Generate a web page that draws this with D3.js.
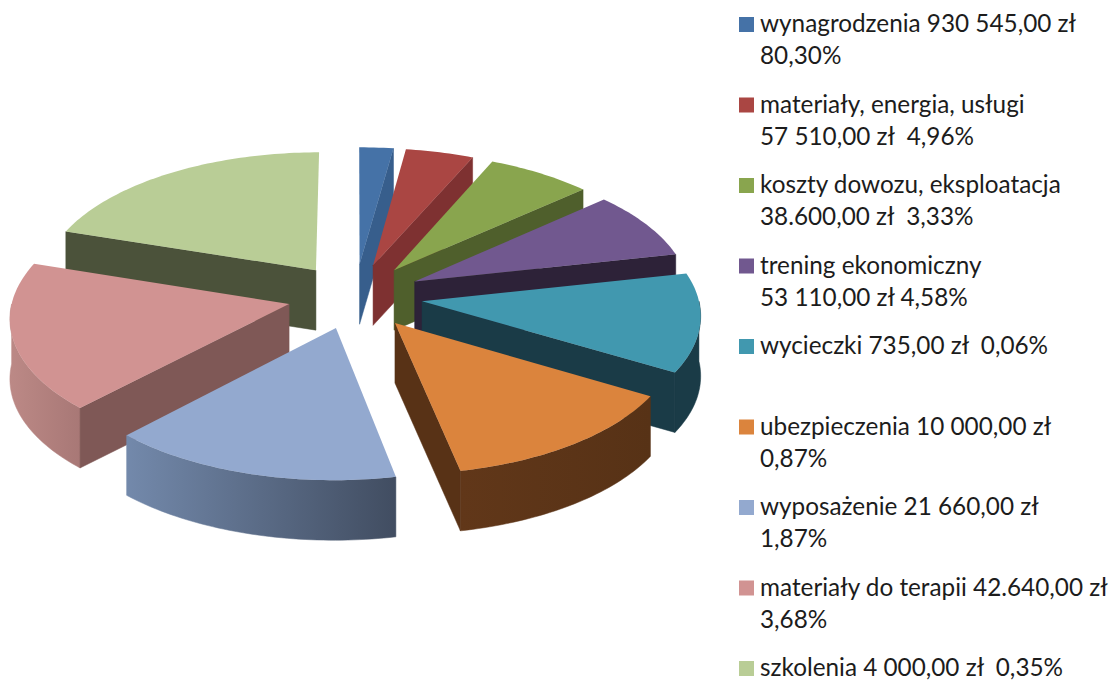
<!DOCTYPE html>
<html lang="pl">
<head>
<meta charset="utf-8">
<title>Struktura wydatków</title>
<script src="https://cdn.jsdelivr.net/npm/d3@7"></script>
<style>
    html, body { margin: 0; padding: 0; background: #fff; }
    svg { display: block; }
    .legend-text { font-family: Lato, "Open Sans", sans-serif; font-size: 24.3px; fill: #1c1c1c; white-space: pre; }
</style>
</head>
<body>
<div id="chart"></div>
<script>
// Slice sizes as drawn in the picture (percent of the full circle). They do not follow the legend figures.
const sliceShares = [2.2, 4.4, 6.8, 8.2, 11.9, 13.3, 15.3, 17.9, 20.0];

// Legend text, first and second line of each entry
const legendFirstLines = [
    "wynagrodzenia 930 545,00 zł",
    "materiały, energia, usługi",
    "koszty dowozu, eksploatacja",
    "trening ekonomiczny",
    "wycieczki 735,00 zł  0,06%",
    "ubezpieczenia 10 000,00 zł",
    "wyposażenie 21 660,00 zł",
    "materiały do terapii 42.640,00 zł",
    "szkolenia 4 000,00 zł  0,35%"
];
const legendSecondLines = [
    "80,30%",
    "57 510,00 zł  4,96%",
    "38.600,00 zł  3,33%",
    "53 110,00 zł 4,58%",
    "",
    "0,87%",
    "1,87%",
    "3,68%",
    ""
];

// Colours: top face, cut faces, outer wall (left and right end of its gradient)
const topColors = ["#4572A7", "#AA4643", "#89A54E", "#71588F", "#4198AF", "#DB843D", "#93A9CF", "#D19392", "#B9CD96"];
const cutColors = ["#375E8C", "#7E3131", "#4F5F2C", "#2D2238", "#1A3B47", "#583216", "#4A5568", "#7F5856", "#4B523A"];
const wallFrom = ["#375E8C", "#7E3131", "#4F5F2C", "#2D2238", "#1A3B47", "#613719", "#7389AB", "#BC8986", "#4B523A"];
const wallTo = ["#375E8C", "#7E3131", "#4F5F2C", "#2D2238", "#1A3B47", "#573216", "#414D61", "#A87876", "#4B523A"];

const width = 1113;
const height = 680;

// Pie geometry: flat ellipse with a light perspective, every slice pulled out by the same amount
const centerX = 355;
const centerY = 296;
const radiusX = 276;
const radiusY = 132.7;
const perspective = 0.089;
const explode = 0.245;
const depth = 60;

const xScale = d3.scaleLinear().domain([-1, 1]).range([centerX - radiusX, centerX + radiusX]);
const yScale = d3.scaleLinear().domain([-1, 1]).range([centerY + radiusY, centerY - radiusY]);

const svg = d3.select("#chart")
    .append("svg")
    .attr("width", width)
    .attr("height", height);

const defs = svg.append("defs");

// Angles run clockwise from the top of the pie
const pieData = d3.pie()
    .sort(null)
    .value(d => d)(sliceShares)
    .map((d, i) => ({
        index: i,
        start: d.startAngle,
        end: d.endAngle,
        mid: (d.startAngle + d.endAngle) / 2
    }));

// Project a point of a slice (angle, radius 0..1) to the screen
function project(slice, angle, radius, drop = 0) {
    const gx = radius * Math.sin(angle) + explode * Math.sin(slice.mid);
    const gz = radius * Math.cos(angle) + explode * Math.cos(slice.mid);
    const f = 1 / (1 + perspective * gz);
    return [xScale(gx * f), yScale(gz * f) + drop];
}

function arcPoints(slice, from, to, drop = 0) {
    const steps = Math.max(2, Math.ceil((to - from) / 0.02));
    return d3.range(steps + 1).map(k => project(slice, from + (to - from) * k / steps, 1, drop));
}

const outline = d3.line().curve(d3.curveLinear);

// Back slices first so the nearer ones paint over them
const drawOrder = pieData.slice().sort((a, b) => Math.cos(b.mid) - Math.cos(a.mid));

const slices = svg.append("g")
    .selectAll("g")
    .data(drawOrder)
    .join("g")
    .attr("class", "slice");

slices.each(function (d) {
    const g = d3.select(this);

    // Outer wall, front half of the rim only
    const from = Math.max(d.start, Math.PI / 2);
    const to = Math.min(d.end, Math.PI * 1.5);
    if (to > from) {
        const gradientId = `wall-${d.index}`;
        const gradient = defs.append("linearGradient").attr("id", gradientId);
        gradient.append("stop").attr("offset", "0%").attr("stop-color", wallFrom[d.index]);
        gradient.append("stop").attr("offset", "100%").attr("stop-color", wallTo[d.index]);

        const wall = arcPoints(d, from, to).concat(arcPoints(d, from, to, depth).reverse());
        g.append("path")
            .attr("d", outline(wall) + "Z")
            .attr("fill", `url(#${gradientId})`)
            .attr("stroke", `url(#${gradientId})`)
            .attr("stroke-width", 0.5);
    }

    // Cut faces that turn towards the viewer
    [d.start, d.end].forEach((angle, k) => {
        const facing = k === 0 ? Math.sin(angle) < -0.001 : Math.sin(angle) > 0.001;
        if (!facing) return;
        const face = [
            project(d, angle, 0),
            project(d, angle, 1),
            project(d, angle, 1, depth),
            project(d, angle, 0, depth)
        ];
        g.append("path")
            .attr("d", outline(face) + "Z")
            .attr("fill", cutColors[d.index])
            .attr("stroke", cutColors[d.index])
            .attr("stroke-width", 0.5);
    });

    // Top face
    const top = [project(d, d.start, 0)].concat(arcPoints(d, d.start, d.end));
    g.append("path")
        .attr("d", outline(top) + "Z")
        .attr("fill", topColors[d.index]);
});

// Legend on the right, rows are evenly spaced
const legendY = d3.scaleLinear().domain([0, legendFirstLines.length - 1]).range([17, 661]);
const lineHeight = 32;

const legend = svg.append("g")
    .selectAll("g")
    .data(legendFirstLines)
    .join("g")
    .attr("class", "legend-row")
    .attr("transform", (d, i) => `translate(739,${legendY(i)})`);

legend.append("rect")
    .attr("width", 15)
    .attr("height", 15)
    .attr("fill", (d, i) => topColors[i]);

legend.append("text")
    .attr("class", "legend-text")
    .attr("x", 21)
    .attr("y", 15)
    .text(d => d);

legend.append("text")
    .attr("class", "legend-text")
    .attr("x", 21)
    .attr("y", 15 + lineHeight)
    .text((d, i) => legendSecondLines[i]);
</script>
</body>
</html>
